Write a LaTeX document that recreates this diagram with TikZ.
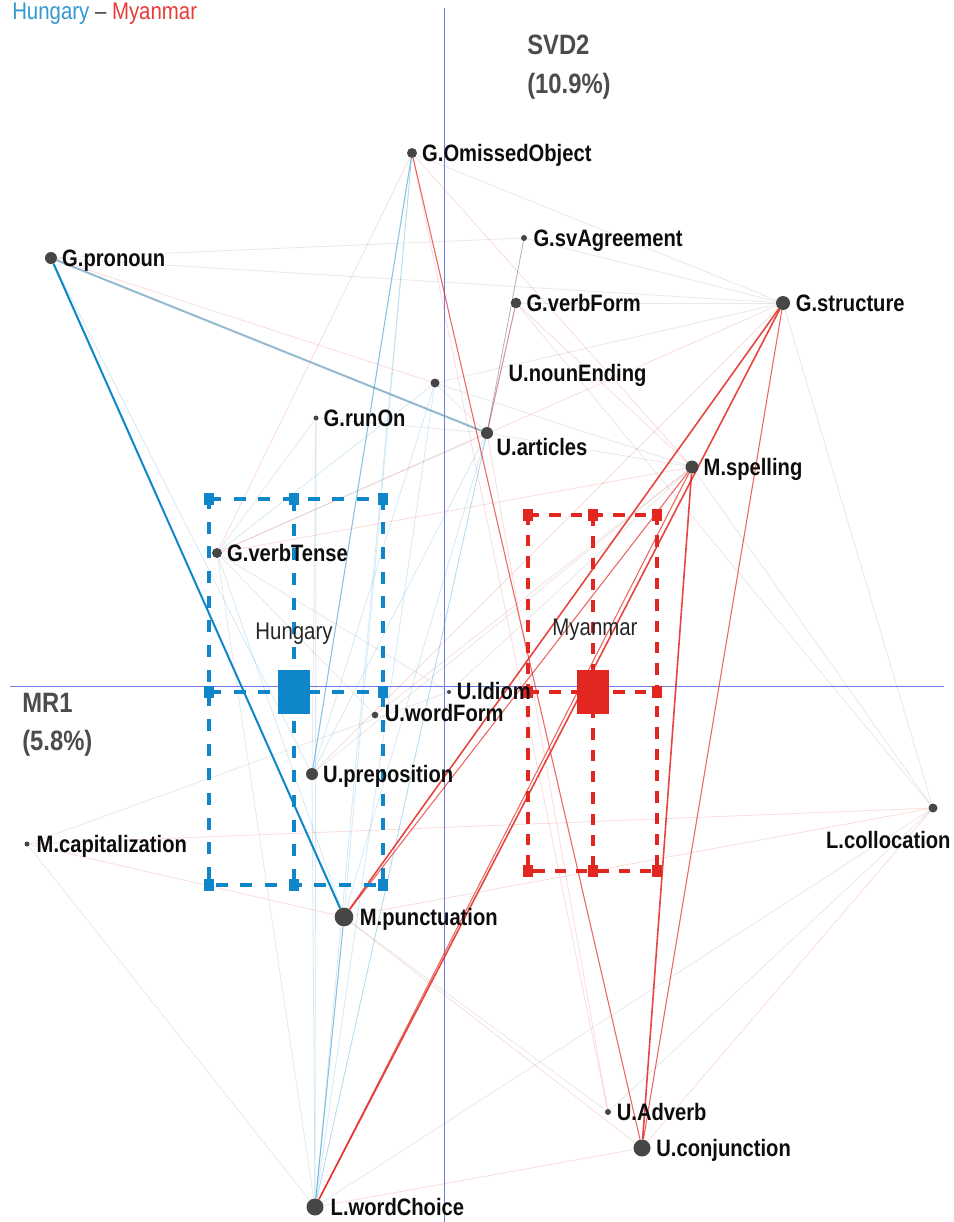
\documentclass[tikz,border=0pt]{standalone}
\usepackage{fontspec}
\setmainfont{Liberation Sans}[FakeStretch=0.85]
\usetikzlibrary{positioning,backgrounds}

\definecolor{hblue}{RGB}{14,134,200}
\definecolor{mred}{RGB}{226,38,32}
\definecolor{axisblue}{RGB}{110,122,232}
\definecolor{dotgray}{RGB}{70,70,70}
\definecolor{steel}{RGB}{112,162,192}

\tikzset{
  catdot/.style={circle, fill=dotgray, inner sep=0pt, minimum size=#1},
  lbl/.style={font=\fontsize{17.8}{20}\selectfont\bfseries, text=black!95, text height=12.7pt, text depth=0pt, inner sep=0pt, anchor=west},
  grplbl/.style={font=\fontsize{18}{20}\selectfont, text=black!85, text height=12.9pt, text depth=0pt, inner sep=0pt},
  axlbl/.style={font=\fontsize{21}{24}\selectfont\bfseries, text=black!70, inner sep=0pt, anchor=base west},
  axisln/.style={axisblue, line width=0.75pt},
  hsq/.style={rectangle, fill=hblue, inner sep=0pt, minimum width=7pt, minimum height=9pt},
  msq/.style={rectangle, fill=mred, inner sep=0pt, minimum width=7pt, minimum height=9pt},
  hbig/.style={rectangle, fill=hblue, inner sep=0pt, minimum width=24.5pt, minimum height=33.5pt},
  mbig/.style={rectangle, fill=mred, inner sep=0pt, minimum width=23.5pt, minimum height=33.5pt},
  hdash/.style={hblue, line width=2.3pt, dash pattern=on 9pt off 9.5pt},
  mdash/.style={mred, line width=2.4pt, dash pattern=on 8.5pt off 7.5pt},
  hline/.style={hblue, line width=1.5pt},
  hmid/.style={hblue, line width=0.8pt, opacity=0.5},
  hfaint/.style={hblue, line width=0.6pt, opacity=0.18},
  steelln/.style={steel, line width=1.5pt, opacity=0.75},
  mline/.style={mred, line width=1.2pt, opacity=0.85},
  mmid/.style={mred, line width=0.8pt, opacity=0.7},
  mfaint/.style={mred, line width=0.6pt, opacity=0.16},
  gfaint/.style={black, line width=0.6pt, opacity=0.09},
}

\begin{document}
\begin{tikzpicture}[x=0.75pt, y=-0.75pt]
  \useasboundingbox (0,0) rectangle (954,1222);

  %%%%% TITLE AND AXES %%%%%
  \node[grplbl, anchor=base west] (title) at (12,19)
    {\textcolor{hblue!85}{Hungary} \textcolor{black!75}{--} \textcolor{mred!90}{Myanmar}};

  \coordinate (ytop) at (444,8);
  \coordinate (ybot) at (444,1222);
  \coordinate (xleft) at (10,686.7);
  \coordinate (xright) at (944,686.7);

  \node[axlbl] (svd) at (527,54) {SVD2};
  \node[axlbl] (svdpct) at (527,93) {(10.9\%)};
  \node[axlbl] (mr) at (22,712) {MR1};
  \node[axlbl] (mrpct) at (22,750) {(5.8\%)};

  %%%%% GROUP BOXES %%%%%
  \foreach \i/\x in {1/209,2/294,3/383}
    \foreach \j/\y in {1/499,2/692,3/885}
      \node[hsq] (h\i\j) at (\x,\y) {};
  \node[hbig] (hun) at (294,692) {};
  \draw[hdash] (h11.center) -- (h31.center) -- (h33.center) -- (h13.center) -- cycle;
  \draw[hdash] (h21.center) -- (h23.center);
  \draw[hdash] (h12.center) -- (h32.center);
  \node[grplbl] (hunlbl) at (294,631) {Hungary};

  \foreach \i/\x in {1/528,2/593,3/657}
    \foreach \j/\y in {1/515,2/692,3/871}
      \node[msq] (m\i\j) at (\x,\y) {};
  \node[mbig] (mya) at (593,692) {};
  \draw[mdash] (m11.center) -- (m31.center) -- (m33.center) -- (m13.center) -- cycle;
  \draw[mdash] (m21.center) -- (m23.center);
  \draw[mdash] (m12.center) -- (m32.center);
  \node[grplbl] (myalbl) at (595,627) {Myanmar};

  %%%%% CATEGORIES %%%%%
  \node[catdot=7.5pt] (omis) at (412,153) {};
  \node[lbl, right=3.5pt of omis] {G.OmissedObject};
  \node[catdot=9pt] (pron) at (51,258) {};
  \node[lbl, right=3.5pt of pron] {G.pronoun};
  \node[catdot=4.5pt] (svag) at (524,238) {};
  \node[lbl, right=4.5pt of svag] {G.svAgreement};
  \node[catdot=8pt] (vform) at (516,303) {};
  \node[lbl, right=3.5pt of vform] {G.verbForm};
  \node[catdot=10.5pt] (struc) at (783,303) {};
  \node[lbl, right=4pt of struc] {G.structure};
  \node[catdot=6.75pt] (noun) at (435,383) {};
  \node[lbl] (nounlbl) at ([xshift=55pt, yshift=7.5pt]noun.center) {U.nounEnding};
  \node[catdot=3.75pt] (runon) at (316,418) {};
  \node[lbl, right=3.5pt of runon] {G.runOn};
  \node[catdot=9pt] (artic) at (487,433) {};
  \node[lbl] (articlbl) at ([xshift=7pt, yshift=-10.5pt]artic.center) {U.articles};
  \node[catdot=9.75pt] (spell) at (692,467) {};
  \node[lbl, right=3.5pt of spell] {M.spelling};
  \node[catdot=7.5pt] (vtense) at (217,553) {};
  \node[lbl, right=3.5pt of vtense] {G.verbTense};
  \node[catdot=3pt] (idiom) at (449,692) {};
  \node[lbl, right=4pt of idiom, yshift=0.6pt] {U.Idiom};
  \node[catdot=5pt] (wform) at (375,715) {};
  \node[lbl, right=4.5pt of wform, yshift=1.2pt] {U.wordForm};
  \node[catdot=9pt] (prep) at (312,774) {};
  \node[lbl, right=3.5pt of prep] {U.preposition};
  \node[catdot=3.75pt] (capit) at (27,844) {};
  \node[lbl, right=5pt of capit] {M.capitalization};
  \node[catdot=6.75pt] (colloc) at (933,808) {};
  \node[lbl, anchor=center] (colloclbl) at ([xshift=-33.5pt, yshift=-24pt]colloc.center) {L.collocation};
  \node[catdot=14pt] (punct) at (344,917) {};
  \node[lbl, right=4.5pt of punct] {M.punctuation};
  \node[catdot=4.5pt] (adverb) at (608,1112) {};
  \node[lbl, right=4pt of adverb] {U.Adverb};
  \node[catdot=12.75pt] (conj) at (642,1148) {};
  \node[lbl, right=4pt of conj] {U.conjunction};
  \node[catdot=12.75pt] (wchoice) at (315,1207) {};
  \node[lbl, right=5pt of wchoice] {L.wordChoice};

  %%%%% LINKS %%%%%
  \begin{scope}[on background layer]
    \draw[axisln] (ytop) -- (ybot);
    \draw[axisln] (xleft) -- (xright);

    \foreach \a/\b in {pron/svag, pron/struc, omis/struc, vform/struc, svag/struc,
        struc/colloc, spell/colloc, vform/colloc, struc/noun, noun/artic,
        runon/artic, vtense/artic, vtense/wform, capit/idiom, wchoice/colloc,
        adverb/colloc, artic/spell, runon/vtense, wchoice/vtense, punct/adverb,
        idiom/spell, prep/spell, runon/prep, capit/wchoice, vtense/idiom, noun/spell}
      \draw[gfaint] (\a) -- (\b);

    \foreach \a/\b in {omis/vtense, pron/noun, spell/vtense, colloc/punct,
        conj/wchoice, punct/conj, conj/colloc, omis/adverb, vform/spell,
        capit/punct, capit/colloc, vtense/struc, omis/spell, artic/adverb,
        wform/spell, prep/struc}
      \draw[mfaint] (\a) -- (\b);

    \foreach \a/\b in {omis/punct, wchoice/artic, wchoice/vform, wchoice/prep,
        wchoice/omis, noun/vtense, noun/prep, pron/prep, vtense/punct,
        artic/prep, runon/wchoice, noun/wchoice, artic/punct}
      \draw[hfaint] (\a) -- (\b);

    \draw[gfaint, opacity=0.3] (svag) -- (artic);
    \draw[mmid, opacity=0.45] (vform) -- (artic);
    \draw[steelln] (pron) -- (artic);
    \draw[hmid] (omis) -- (prep);
    \draw[hmid] (wchoice) -- (punct);
    \draw[hline] (pron) -- (punct);

    \draw[mmid] (omis) -- (conj);
    \draw[mmid] (struc) -- (conj);
    \draw[mmid] (spell) -- (punct);
    \draw[mmid] (spell) -- (wchoice);
    \draw[mline] (struc) -- (punct);
    \draw[mline] (struc) -- (wchoice);
    \draw[mline] (spell) -- (conj);
  \end{scope}
\end{tikzpicture}
\end{document}
